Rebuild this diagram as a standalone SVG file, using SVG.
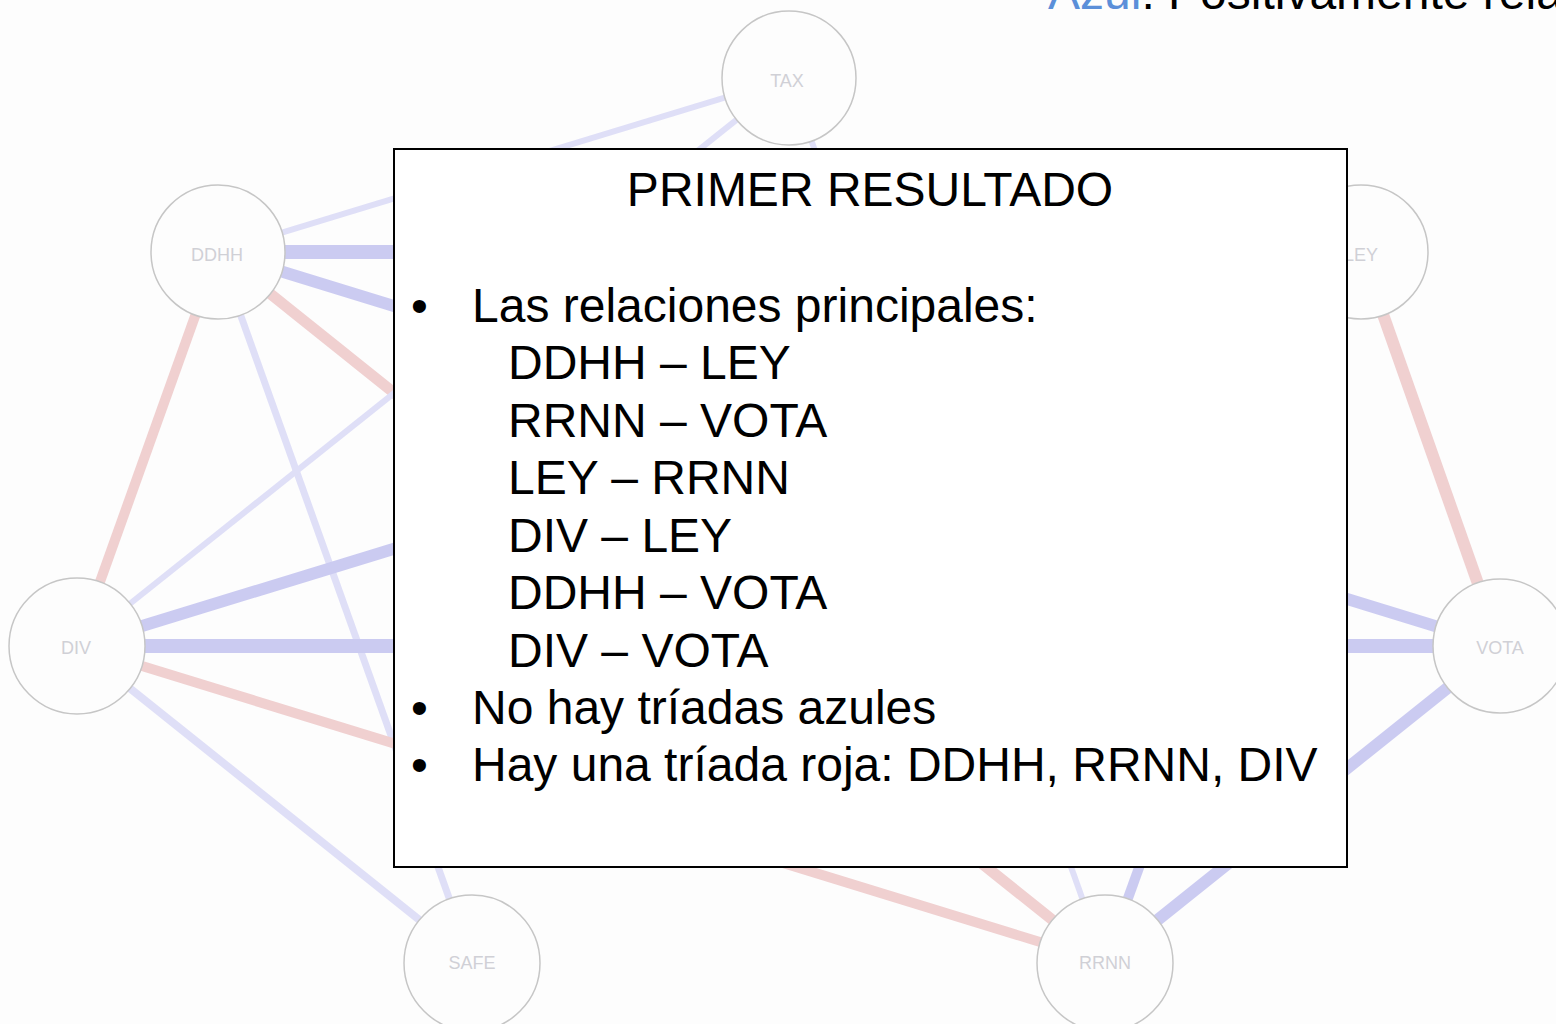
<svg xmlns="http://www.w3.org/2000/svg" width="1556" height="1024" viewBox="0 0 1556 1024">
<style>
.e{fill:none;stroke-linecap:butt}
.b{stroke:#cbcbf1}
.l{stroke:#dfdff7}
.r{stroke:#f0d0d0}
.n circle{fill:#fdfdfd;stroke:#c6c6c6;stroke-width:1.5}
.n text{font-family:"Liberation Sans",Arial,sans-serif;font-size:18px;fill:#d0d0d6;text-anchor:middle}
.t{font-family:"Liberation Sans",Arial,sans-serif;font-size:48px;fill:#000}
</style>
<rect width="1556" height="1024" fill="#fdfdfd"/>
<text class="t" x="1048" y="9"><tspan fill="#5b8fd9">Azul</tspan>: Positivamente rela</text>
<g id="edges">
<line class="e l" x1="218" y1="252" x2="789" y2="78" stroke-width="6"/>
<line class="e b" x1="218" y1="252" x2="1361" y2="252" stroke-width="14"/>
<line class="e b" x1="218" y1="252" x2="1500" y2="646" stroke-width="12"/>
<line class="e r" x1="218" y1="252" x2="1105" y2="962" stroke-width="11"/>
<line class="e r" x1="218" y1="252" x2="77" y2="646" stroke-width="10"/>
<line class="e l" x1="218" y1="252" x2="472" y2="962" stroke-width="7"/>
<line class="e l" x1="77" y1="646" x2="789" y2="78" stroke-width="6"/>
<line class="e b" x1="77" y1="646" x2="1361" y2="252" stroke-width="12"/>
<line class="e b" x1="77" y1="646" x2="1500" y2="646" stroke-width="14"/>
<line class="e r" x1="77" y1="646" x2="1105" y2="962" stroke-width="10"/>
<line class="e l" x1="77" y1="646" x2="472" y2="962" stroke-width="8"/>
<line class="e l" x1="789" y1="78" x2="1105" y2="962" stroke-width="6"/>
<line class="e r" x1="1361" y1="252" x2="1500" y2="646" stroke-width="12"/>
<line class="e b" x1="1361" y1="252" x2="1105" y2="962" stroke-width="10"/>
<line class="e b" x1="1500" y1="646" x2="1105" y2="962" stroke-width="12"/>
</g>
<g id="node-tax" class="n"><circle cx="789" cy="78" r="67"/><text x="787" y="87">TAX</text></g>
<g id="node-ddhh" class="n"><circle cx="218" cy="252" r="67"/><text x="217" y="261">DDHH</text></g>
<g id="node-ley" class="n"><circle cx="1361" cy="252" r="67"/><text x="1361" y="261">LEY</text></g>
<g id="node-div" class="n"><circle cx="77" cy="646" r="68"/><text x="76" y="654">DIV</text></g>
<g id="node-vota" class="n"><circle cx="1500" cy="646" r="67"/><text x="1500" y="654">VOTA</text></g>
<g id="node-safe" class="n"><circle cx="472" cy="963" r="68"/><text x="472" y="969">SAFE</text></g>
<g id="node-rrnn" class="n"><circle cx="1105" cy="963" r="68"/><text x="1105" y="969">RRNN</text></g>
<g id="textbox">
<rect x="394" y="149" width="953" height="718" fill="#fff" stroke="#000" stroke-width="2"/>
<text class="t" x="870" y="206" text-anchor="middle" font-size="47">PRIMER RESULTADO</text>
<text class="t" x="411" y="322">•</text>
<text class="t" x="472" y="322">Las relaciones principales:</text>
<text class="t" x="508" y="379">DDHH – LEY</text>
<text class="t" x="508" y="436.5">RRNN – VOTA</text>
<text class="t" x="508" y="494">LEY – RRNN</text>
<text class="t" x="508" y="551.5">DIV – LEY</text>
<text class="t" x="508" y="609">DDHH – VOTA</text>
<text class="t" x="508" y="666.5">DIV – VOTA</text>
<text class="t" x="411" y="724">•</text>
<text class="t" x="472" y="724">No hay tríadas azules</text>
<text class="t" x="411" y="781">•</text>
<text class="t" x="472" y="781">Hay una tríada roja: DDHH, RRNN, DIV</text>
</g>
</svg>
